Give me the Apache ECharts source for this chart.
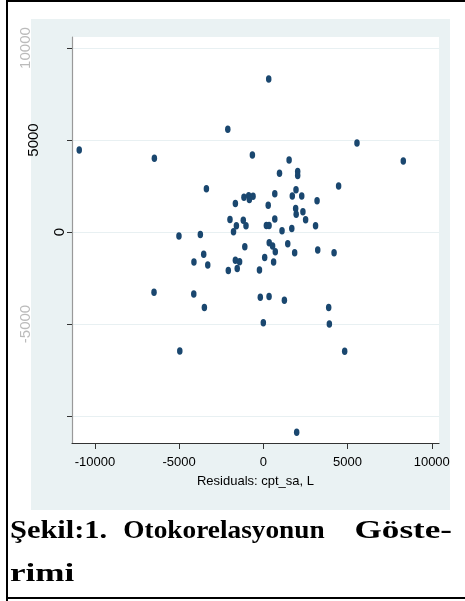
<!DOCTYPE html>
<html><head><meta charset="utf-8">
<script src="https://cdn.jsdelivr.net/npm/echarts@6/dist/echarts.min.js"></script>
<style>html,body{margin:0;padding:0;background:#fff}#c{width:465px;height:601px}</style>
</head><body><div id="c"></div>
<script>
// Residuals (x) vs lagged residuals (y)
const residualX = [-10930,-6470,-6490,-5010,-3740,-3540,-4120,-3300,-4130,-3500,-4960,-3380,-2110,320,-650,1530,960,2040,2040,5560,8310,4470,1940,680,-1150,-870,-830,-610,1720,2280,-1660,290,3190,1920,1950,2350,-1980,-1190,-1030,-1600,-1770,180,340,680,1110,1690,2510,3100,-1100,350,550,710,1450,1860,3230,4200,-1660,-1410,-1550,-2080,80,610,-230,-180,340,1250,3880,0,3920,4830,1980];
const residualY = [4460,4010,-3280,-220,-140,-1210,-1630,-1790,-3370,-4110,-6470,2350,5580,8320,4180,3910,3190,3290,3070,4840,3860,2500,2300,2080,1890,1970,1770,1940,1960,1960,1550,1460,1700,1280,960,1100,680,640,340,340,10,360,360,710,70,190,660,340,-800,-580,-760,-1080,-640,-1130,-980,-1130,-1540,-1620,-1980,-2090,-1380,-1630,-2070,-3550,-3500,-3710,-4110,-4930,-5000,-6480,-10890];
const xTicks = [-10000,-5000,0,5000,10000];
const yTicks = [-10000,-5000,0,5000,10000];
const yTickLabels = [-5000,0,5000,10000];
const xTitle = 'Residuals: cpt_sa, L';
const captionWords = ['Şekil:1.','Otokorelasyonun','Göste-','rimi'];

const points = residualX.map((v,i)=>[v,residualY[i]]);
const chart = echarts.init(document.getElementById('c'), null, {renderer:'canvas'});
const yFont = 'Liberation Sans, Arial, sans-serif';
const yRich = {
  a:{fontSize:15,fontFamily:yFont,color:'#000',padding:[0,0,0,0]},
  b:{fontSize:15,fontFamily:yFont,color:'#000',padding:[0,0,26,0]},
  c:{fontSize:15,fontFamily:yFont,color:'#bbb',padding:[0,0,34,0]}
};
const capFont = 'Liberation Serif, Times New Roman, serif';
function capWord(word, x, y, align, sx){
  return {type:'text',x:x,y:y,scaleX:sx,silent:true,
    style:{text:word,x:0,y:0,align:align,verticalAlign:'bottom',fontSize:26,fontWeight:'bold',fontFamily:capFont,fill:'#000'}};
}
chart.setOption({
  animation:false,
  backgroundColor:'#fff',
  grid:{left:72,top:37,right:26,bottom:158,containLabel:false},
  xAxis:{type:'value',min:-11360,max:10430,
    axisLine:{show:true,onZero:false,lineStyle:{color:'#333',width:1.2}},
    axisTick:{show:true,length:6,customValues:xTicks,lineStyle:{color:'#333'}},
    axisLabel:{customValues:xTicks,margin:13,fontSize:13,color:'#000',
      fontFamily:'Liberation Sans Narrow, Arial Narrow, sans-serif',
      formatter:function(v){return String(v);}},
    splitLine:{show:false},
    name:xTitle,nameLocation:'middle',nameGap:32,
    nameTextStyle:{fontSize:13,color:'#000',fontFamily:'Liberation Sans Narrow, Arial Narrow, sans-serif'}
  },
  yAxis:{type:'value',min:-11470,max:10600,
    axisLine:{show:true,onZero:false,lineStyle:{color:'#999',width:1.2}},
    axisTick:{show:true,length:5,customValues:yTicks,lineStyle:{color:'#333'}},
    axisLabel:{customValues:yTickLabels,rotate:90,margin:5,
      formatter:function(v){
        if(v===0) return '{a|0}';
        if(v===5000) return '{b|5000}';
        return '{c|'+String(v)+'}';
      },rich:yRich},
    splitLine:{show:true,lineStyle:{color:'#e8f0f2',width:1.2}}
  },
  series:[{type:'scatter',data:points,symbol:'circle',symbolSize:[5.5,7.5],
    itemStyle:{color:'#1a476f',opacity:1},z:3}],
  graphic:[
    {type:'rect',shape:{x:31,y:19,width:419,height:491},style:{fill:'#eaf2f3'},z:-100,silent:true},
    {type:'rect',shape:{x:72,y:37,width:367,height:406},style:{fill:'#ffffff'},z:-99,silent:true},
    {type:'polyline',shape:{points:[[7,601],[7,1],[465,1]]},style:{stroke:'#000',lineWidth:2,fill:null},z:50,silent:true},
    {type:'line',shape:{x1:7,y1:598,x2:465,y2:598},style:{stroke:'#000',lineWidth:2},z:50,silent:true},
    capWord(captionWords[0],10,544,'left',1.17),
    capWord(captionWords[1],224,544,'center',1.05),
    capWord(captionWords[2],452,544,'right',1.35),
    capWord(captionWords[3],10,587,'left',1.35)
  ]
});
</script></body></html>
